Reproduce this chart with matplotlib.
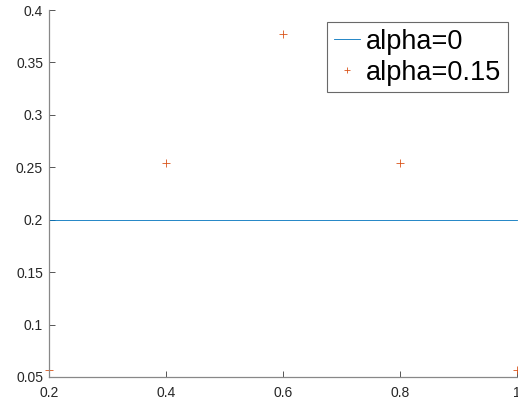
import numpy as np
import matplotlib; matplotlib.use("agg")
import matplotlib.pyplot as plt

x = [0.2, 0.4, 0.6, 0.8, 1.0]
uniform = [0.2, 0.2, 0.2, 0.2, 0.2]
smoothed = [0.0567, 0.2545, 0.3768, 0.2545, 0.0567]
labels = ["alpha=0", "alpha=0.15"]

plt.rcParams["font.family"] = ["Liberation Sans", "DejaVu Sans"]
fig = plt.figure(figsize=(5.18, 4.01), dpi=100)
ax = fig.add_axes([0.0946, 0.0599, 0.904, 0.915])
ax.plot(x, uniform, color="#0072BD", lw=0.6, label=labels[0])
ax.plot(x, smoothed, ls="none", marker="+", ms=6, mew=0.6, color="#D95319", label=labels[1])
ax.set_xlim(0.2, 1.0); ax.set_ylim(0.05, 0.4)
ax.set_xticks([0.2, 0.4, 0.6, 0.8, 1.0]); ax.set_xticklabels(["0.2", "0.4", "0.6", "0.8", "1"])
ax.set_yticks(np.arange(0.05, 0.401, 0.05)); ax.set_yticklabels(["0.05", "0.1", "0.15", "0.2", "0.25", "0.3", "0.35", "0.4"])
for s in ("top", "right"):
    ax.spines[s].set_visible(False)
for s in ("left", "bottom"):
    ax.spines[s].set_color("#888888"); ax.spines[s].set_linewidth(0.9)
ax.tick_params(direction="in", length=4, width=0.7, color="#555555", labelsize=10, labelcolor="#262626")
ax.tick_params(axis="x", pad=6.5)
ax.tick_params(axis="y", pad=4.3)
for m in ax.lines:
    m.set_clip_on(False)
leg = ax.legend(loc="upper right", bbox_to_anchor=(0.98, 0.967), fontsize=19.5, frameon=True, fancybox=False,
                edgecolor="#444444", handlelength=0.95, handletextpad=0.22, borderpad=0.25, labelspacing=0.17,
                borderaxespad=0, markerscale=0.7)
leg.get_frame().set_linewidth(0.8)
fig.savefig("out.png", dpi=100)
